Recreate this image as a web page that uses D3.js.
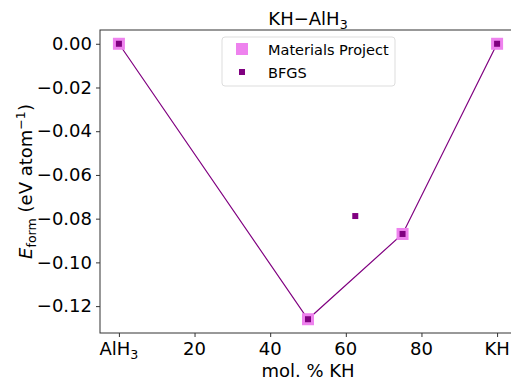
<!DOCTYPE html>
<html><head><meta charset="utf-8">
<script src="https://cdn.jsdelivr.net/npm/d3@7"></script>
<style>body{margin:0;background:#fff}svg{font-family:"DejaVu Sans",sans-serif}</style>
</head><body><svg id="c" width="511" height="381"></svg>
<script>
const mpX = [0, 50, 75, 100];
const mpY = [0, -0.126, -0.087, 0];
const bfgsX = [0, 50, 62.5, 75, 100];
const bfgsY = [0, -0.126, -0.0788, -0.087, 0];
const hullX = [0, 50, 75, 100];
const hullY = [0, -0.126, -0.087, 0];
const xTicks = [0, 20, 40, 60, 80, 100];
const yTicks = [0, -0.02, -0.04, -0.06, -0.08, -0.10, -0.12];

const svg = d3.select("#c");
const L = 100, R = 516, T = 30, B = 333;
const x = d3.scaleLinear().domain([-5, 105]).range([L, R]);
const y = d3.scaleLinear().domain([0.0063, -0.1323]).range([T, B]);
const fs = 18, sub = 12.6;

svg.append("rect").attr("x", L).attr("y", T).attr("width", R - L).attr("height", B - T)
  .attr("fill", "none").attr("stroke", "#333").attr("stroke-width", 1);

// x axis
const xa = svg.append("g").attr("transform", `translate(0,${B})`)
  .call(d3.axisBottom(x).tickValues(xTicks).tickSize(4).tickFormat(() => ""));
xa.select(".domain").remove();
xa.selectAll("line").attr("stroke", "#333");
xTicks.forEach(t => {
  const tx = svg.append("text").attr("x", x(t)).attr("y", B + 22).attr("text-anchor", "middle")
    .attr("font-size", fs).attr("fill", "#000");
  if (t === 0) { tx.text("AlH"); tx.append("tspan").attr("font-size", sub).attr("dy", 4).text("3"); }
  else if (t === 100) tx.text("KH");
  else tx.text(t);
});

// y axis
const ya = svg.append("g").attr("transform", `translate(${L},0)`)
  .call(d3.axisLeft(y).tickValues(yTicks).tickSize(4).tickFormat(d => (d < 0 ? "\u2212" : "") + Math.abs(d).toFixed(2)));
ya.select(".domain").remove();
ya.selectAll("line").attr("stroke", "#333");
ya.selectAll("text").attr("font-size", fs).attr("fill", "#000").attr("font-family", "DejaVu Sans").attr("dx", "-1");

// labels
svg.append("text").attr("x", (L + R) / 2).attr("y", 25).attr("text-anchor", "middle")
  .attr("font-size", fs).html(`KH\u2212AlH<tspan font-size="${sub}" dy="4">3</tspan>`);
svg.append("text").attr("x", (L + R) / 2).attr("y", 377).attr("text-anchor", "middle")
  .attr("font-size", fs).text("mol. % KH");
svg.append("text").attr("transform", `translate(32,${(T + B) / 2}) rotate(-90)`).attr("text-anchor", "middle")
  .attr("font-size", fs)
  .html(`<tspan font-style="italic">E</tspan><tspan font-size="${sub}" dy="4">form</tspan><tspan dy="-4"> (eV atom</tspan><tspan font-size="${sub}" dy="-7">\u22121</tspan><tspan dy="7">)</tspan>`);

// hull line
svg.append("path").datum(hullX.map((d, i) => [d, hullY[i]]))
  .attr("d", d3.line().x(d => x(d[0])).y(d => y(d[1])))
  .attr("fill", "none").attr("stroke", "#800080").attr("stroke-width", 1.2);

const s1 = 12, s2 = 6;
svg.append("g").selectAll("rect").data(mpX.map((d, i) => [d, mpY[i]])).join("rect")
  .attr("x", d => x(d[0]) - s1 / 2).attr("y", d => y(d[1]) - s1 / 2)
  .attr("width", s1).attr("height", s1).attr("fill", "#ee82ee");
svg.append("g").selectAll("rect").data(bfgsX.map((d, i) => [d, bfgsY[i]])).join("rect")
  .attr("x", d => x(d[0]) - s2 / 2).attr("y", d => y(d[1]) - s2 / 2)
  .attr("width", s2).attr("height", s2).attr("fill", "#800080");

// legend
const lg = svg.append("g");
lg.append("rect").attr("x", 222).attr("y", 37).attr("width", 173).attr("height", 49).attr("rx", 3)
  .attr("fill", "#fff").attr("fill-opacity", 0.8).attr("stroke", "#ddd");
lg.append("rect").attr("x", 236).attr("y", 43).attr("width", 12).attr("height", 12).attr("fill", "#ee82ee");
lg.append("rect").attr("x", 239).attr("y", 69).attr("width", 6).attr("height", 6).attr("fill", "#800080");
lg.append("text").attr("x", 268).attr("y", 55).attr("font-size", 14.5).text("Materials Project");
lg.append("text").attr("x", 268).attr("y", 78).attr("font-size", 14.5).text("BFGS");
</script></body></html>
